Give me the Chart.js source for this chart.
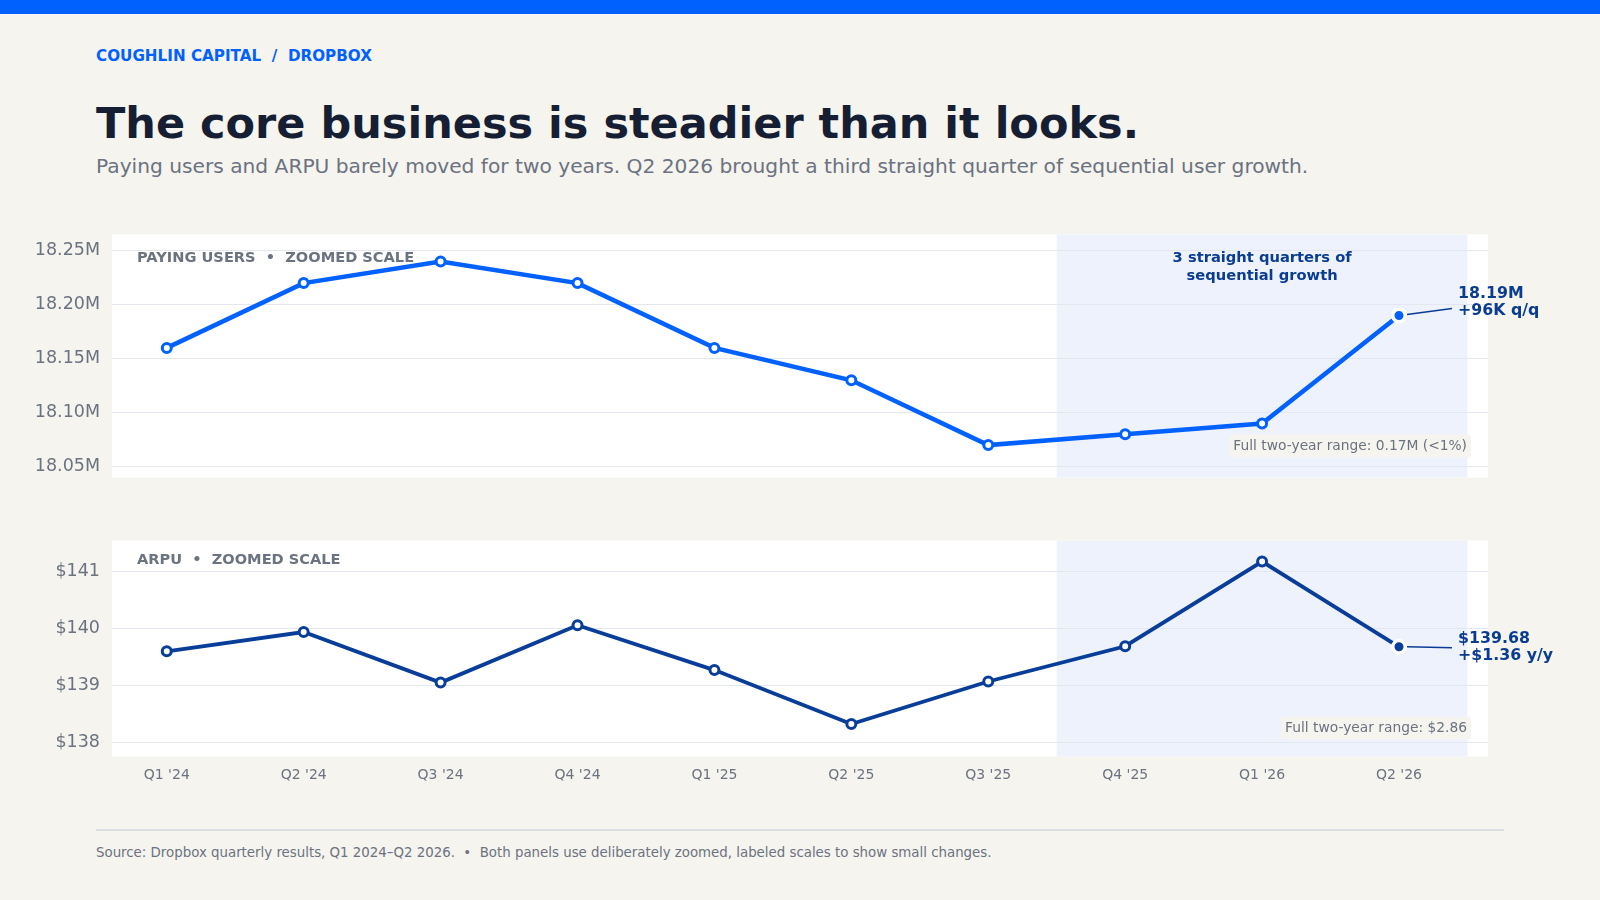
<!doctype html>
<html lang="en">
  <head>
    <meta charset="utf-8">
    <title>Dropbox: paying users and ARPU</title>
    <style>
      * { margin: 0; padding: 0; }
      body { background: #f5f4ef; font-family: "DejaVu Sans", sans-serif; }
      .page { position: relative; width: 1600px; height: 900px; overflow: hidden; }
      .topbar { position: absolute; left: 0; top: 0; width: 1600px; height: 14px; background: #0061fe; }
      .kicker { position: absolute; left: 96px; top: 47px; font-size: 15.2px; font-weight: bold; color: #0061fe; white-space: pre; }
      .title { position: absolute; left: 96px; top: 98px; font-size: 43px; font-weight: bold; color: #161e33; }
      .subtitle { position: absolute; left: 96px; top: 154px; font-size: 20.2px; color: #6b7280; }
      canvas { position: absolute; left: 0; }
      #usersChart { top: 234px; }
      #arpuChart { top: 540px; }
      .rule { position: absolute; left: 96px; top: 829px; width: 1408px; height: 2px; background: #dadde2; }
      .source { position: absolute; left: 96px; top: 845px; font-size: 13.35px; color: #6b7280; white-space: pre; }
    </style>
  </head>
  <body>
    <div class="page">
      <div class="topbar"></div>
      <div class="kicker">COUGHLIN CAPITAL  /  DROPBOX</div>
      <div class="title">The core business is steadier than it looks.</div>
      <div class="subtitle">Paying users and ARPU barely moved for two years. Q2 2026 brought a third straight quarter of sequential user growth.</div>
      <canvas id="usersChart" width="1600" height="243"></canvas>
      <canvas id="arpuChart" width="1600" height="260"></canvas>
      <div class="rule"></div>
      <div class="source">Source: Dropbox quarterly results, Q1 2024–Q2 2026.  •  Both panels use deliberately zoomed, labeled scales to show small changes.</div>
    </div>
    <script src="https://cdn.jsdelivr.net/npm/chart.js"></script>
    <script>
    // data
    const quarters = ["Q1 '24", "Q2 '24", "Q3 '24", "Q4 '24", "Q1 '25", "Q2 '25", "Q3 '25", "Q4 '25", "Q1 '26", "Q2 '26"];
    const payingUsers = [18.16, 18.22, 18.24, 18.22, 18.16, 18.13, 18.07, 18.08, 18.09, 18.19];
    const arpu = [139.60, 139.94, 139.05, 140.06, 139.27, 138.32, 139.07, 139.69, 141.18, 139.68];
    const userTicks = [18.05, 18.10, 18.15, 18.20, 18.25];
    const arpuTicks = [138, 139, 140, 141];

    const FONT = '"DejaVu Sans", sans-serif';
    const GRAY = '#6b7280';
    const NAVY = '#0a3d91';
    const last = quarters.length - 1;

    // panel background, highlight band and text annotations
    const panelPlugin = {
      id: 'panel',
      beforeDraw(chart, args, opts) {
        const { ctx, chartArea: a, scales: { x } } = chart;
        ctx.save();
        ctx.fillStyle = '#ffffff';
        ctx.fillRect(a.left, a.top, a.right - a.left, a.bottom - a.top);
        const x0 = x.getPixelForValue(6.5), x1 = x.getPixelForValue(9.5);
        ctx.fillStyle = '#edf2fd';
        ctx.fillRect(x0, a.top, x1 - x0, a.bottom - a.top);
        ctx.restore();
      },
      afterDatasetsDraw(chart, args, opts) {
        const { ctx, chartArea: a, scales: { x, y } } = chart;
        ctx.save();
        ctx.textBaseline = 'middle';

        ctx.font = 'bold 14.6px ' + FONT;
        ctx.fillStyle = GRAY;
        ctx.textAlign = 'left';
        ctx.fillText(opts.label, 137, a.top + opts.labelDy);

        if (opts.note) {
          ctx.font = 'bold 14.7px ' + FONT;
          ctx.fillStyle = NAVY;
          ctx.textAlign = 'center';
          const nx = x.getPixelForValue(8);
          opts.note.forEach((t, i) => ctx.fillText(t, nx, a.top + 24 + i * 18));
        }

        // end-point callout
        const px = x.getPixelForValue(last), py = y.getPixelForValue(opts.values[last]);
        ctx.strokeStyle = NAVY;
        ctx.lineWidth = 1.5;
        ctx.beginPath();
        ctx.moveTo(px + 8, py - (opts.leadDy > 0 ? 0 : 1));
        ctx.lineTo(px + 53, py + opts.leadDy);
        ctx.stroke();
        ctx.font = 'bold 15.8px ' + FONT;
        ctx.fillStyle = NAVY;
        ctx.textAlign = 'left';
        opts.callout.forEach((t, i) => ctx.fillText(t, px + 59, py + opts.calloutDy + i * 17.5));

        // range box
        ctx.font = '13.8px ' + FONT;
        const w = ctx.measureText(opts.range).width;
        const bx = 1471 - w - 8, by = a.top + opts.rangeDy;
        ctx.fillStyle = '#f5f4ef';
        ctx.beginPath();
        ctx.roundRect(bx, by - 11.5, w + 8, 23, 4);
        ctx.fill();
        ctx.fillStyle = GRAY;
        ctx.textAlign = 'left';
        ctx.fillText(opts.range, bx + 4, by + 0.5);
        ctx.restore();
      }
    };

    function makeConfig(values, ticks, yMin, yMax, fmt, color, lw, showX, panel) {
      return {
        type: 'line',
        data: {
          datasets: [{
            data: values.map((v, i) => ({ x: i, y: v })),
            borderColor: color,
            borderWidth: lw,
            pointRadius: values.map((v, i) => i === last ? 6.25 : 4.5),
            pointBorderWidth: values.map((v, i) => i === last ? 3.5 : 3),
            pointBackgroundColor: values.map((v, i) => i === last ? color : '#ffffff'),
            pointBorderColor: values.map((v, i) => i === last ? '#ffffff' : color),
            tension: 0,
            clip: false
          }]
        },
        options: {
          responsive: false,
          maintainAspectRatio: false,
          animation: false,
          layout: { padding: { left: 0, right: 112, top: 0, bottom: 0 } },
          plugins: { legend: { display: false }, tooltip: { enabled: false }, panel },
          scales: {
            x: {
              type: 'linear',
              min: -0.4,
              max: 9.65,
              display: showX,
              afterBuildTicks: s => { s.ticks = quarters.map((q, i) => ({ value: i })); },
              afterFit: s => { s.height = showX ? 44 : 0; },
              grid: { display: false, drawTicks: false },
              border: { display: false },
              ticks: {
                padding: 10,
                color: GRAY,
                font: { family: FONT, size: 14 },
                callback: v => quarters[v],
                maxRotation: 0,
                autoSkip: false
              }
            },
            y: {
              min: yMin,
              max: yMax,
              afterBuildTicks: s => { s.ticks = ticks.map(v => ({ value: v })); },
              afterFit: s => { s.width = 112; },
              grid: { color: '#e3e8f0', lineWidth: 1, drawTicks: false },
              border: { display: false },
              ticks: {
                padding: 12,
                color: GRAY,
                font: { family: FONT, size: 17.5 },
                callback: fmt
              }
            }
          }
        },
        plugins: [panelPlugin]
      };
    }

    // place a chart so its plot area lands on the given top / height of the page
    function placeChart(chart, areaTop, areaHeight) {
      for (let k = 0; k < 3; k++) {
        const a = chart.chartArea;
        const over = chart.height - (a.bottom - a.top);
        chart.resize(1600, areaHeight + over);
      }
      chart.canvas.style.top = (areaTop - chart.chartArea.top) + 'px';
    }

    const usersChart = new Chart(document.getElementById('usersChart'), makeConfig(
      payingUsers, userTicks, 18.04, 18.265, v => v.toFixed(2) + 'M', '#0061fe', 4.5, false,
      {
        label: 'PAYING USERS  •  ZOOMED SCALE', labelDy: 24,
        note: ['3 straight quarters of', 'sequential growth'],
        values: payingUsers,
        callout: ['18.19M', '+96K q/q'], calloutDy: -22, leadDy: -7,
        range: 'Full two-year range: 0.17M (<1%)', rangeDy: 211.5
      }
    ));
    placeChart(usersChart, 234, 243);

    const arpuChart = new Chart(document.getElementById('arpuChart'), makeConfig(
      arpu, arpuTicks, 137.75, 141.55, v => '$' + v, '#083d99', 3.8, true,
      {
        label: 'ARPU  •  ZOOMED SCALE', labelDy: 19.5,
        note: null,
        values: arpu,
        callout: ['$139.68', '+$1.36 y/y'], calloutDy: -8, leadDy: 1,
        range: 'Full two-year range: $2.86', rangeDy: 187.5
      }
    ));
    placeChart(arpuChart, 540, 216);
    </script>
  </body>
</html>
